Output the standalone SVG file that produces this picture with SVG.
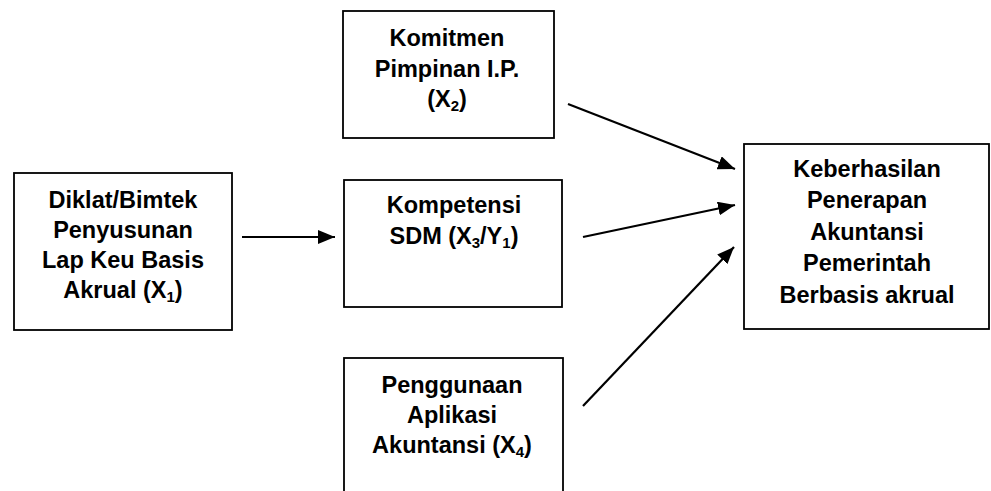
<svg xmlns="http://www.w3.org/2000/svg" width="991" height="491" viewBox="0 0 991 491">
<defs>
<style>
.box{fill:#fff;stroke:#000;stroke-width:1.8}
.t{font-family:"Liberation Sans",Arial,sans-serif;font-weight:bold;font-size:23.5px;fill:#000;text-anchor:middle}
.s{font-size:15px}
.c{stroke:#000;stroke-width:2.2;fill:none;marker-end:url(#ah)}
</style>
<marker id="ah" markerUnits="userSpaceOnUse" markerWidth="20" markerHeight="16" refX="17" refY="7" orient="auto">
<path d="M0,0 L17,7 L0,14 z" fill="#000"/>
</marker>
</defs>
<rect width="991" height="491" fill="#fff"/>
<g id="x1">
<rect class="box" x="14" y="173" width="218" height="157"/>
<text class="t" x="123" y="208">Diklat/Bimtek</text>
<text class="t" x="123" y="238">Penyusunan</text>
<text class="t" x="123" y="268">Lap Keu Basis</text>
<text class="t" x="123" y="298">Akrual (X<tspan class="s" dy="4">1</tspan><tspan dy="-4">)</tspan></text>
</g>
<g id="x2">
<rect class="box" x="343" y="11" width="211" height="127"/>
<text class="t" x="447" y="46">Komitmen</text>
<text class="t" x="447" y="77">Pimpinan I.P.</text>
<text class="t" x="447" y="107">(X<tspan class="s" dy="4">2</tspan><tspan dy="-4">)</tspan></text>
</g>
<g id="x3">
<rect class="box" x="344" y="180" width="218" height="127"/>
<text class="t" x="454" y="213">Kompetensi</text>
<text class="t" x="454" y="244">SDM (X<tspan class="s" dy="4">3</tspan><tspan dy="-4">/Y</tspan><tspan class="s" dy="4">1</tspan><tspan dy="-4">)</tspan></text>
</g>
<g id="x4">
<rect class="box" x="344" y="358" width="219" height="150"/>
<text class="t" x="452" y="393">Penggunaan</text>
<text class="t" x="452" y="423">Aplikasi</text>
<text class="t" x="452" y="453">Akuntansi (X<tspan class="s" dy="4">4</tspan><tspan dy="-4">)</tspan></text>
</g>
<g id="y">
<rect class="box" x="744" y="144" width="245" height="185"/>
<text class="t" x="867" y="177">Keberhasilan</text>
<text class="t" x="867" y="208">Penerapan</text>
<text class="t" x="867" y="240">Akuntansi</text>
<text class="t" x="867" y="271">Pemerintah</text>
<text class="t" x="867" y="303">Berbasis akrual</text>
</g>
<g id="connectors">
<line class="c" x1="242" y1="237" x2="335" y2="237"/>
<line class="c" x1="568" y1="104" x2="735" y2="169"/>
<line class="c" x1="583" y1="237" x2="735" y2="205"/>
<line class="c" x1="583" y1="406" x2="734" y2="247"/>
</g>
</svg>
